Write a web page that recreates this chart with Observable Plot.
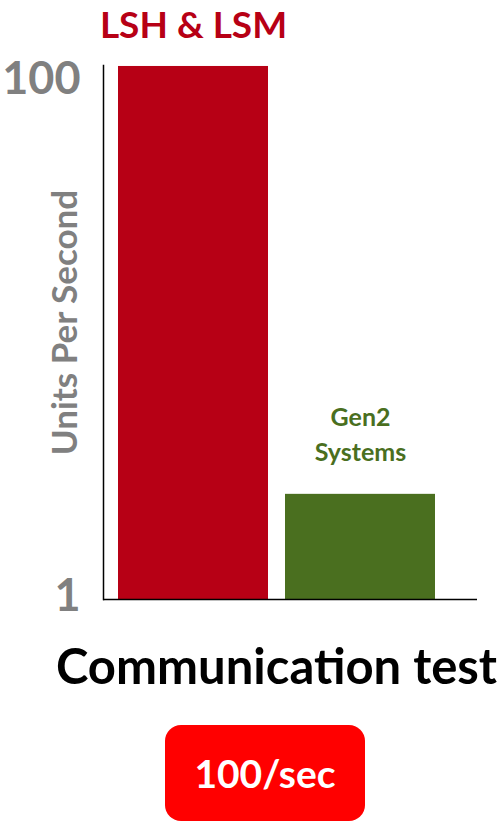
<!DOCTYPE html>
<html>
<head>
<meta charset="utf-8">
<script src="https://cdn.jsdelivr.net/npm/d3@7"></script>
<script src="https://cdn.jsdelivr.net/npm/@observablehq/plot@0.6"></script>
<style>
  html, body { margin: 0; padding: 0; background: #fff; }
  #chart { width: 501px; }
  #chart svg { display: block; }
  #box {
    margin: 25px 0 0 165px; width: 200px; height: 96px;
    background: #ff0000; border-radius: 16px; color: #fff;
    font: bold 39px Lato, "Open Sans", sans-serif;
    display: flex; align-items: center; justify-content: center;
  }
</style>
</head>
<body>
<div id="chart"></div>
<div id="box"></div>
<script>
const categories = ["LSH & LSM", "Gen2 Systems"];
const values = [115, 2.55];
const labels = ["LSH & LSM", "Gen2\nSystems"];
const colors = ["#b70015", "#4a6f1f"];
const yTicks = [1, 100];
const yLabel = "Units Per Second";
const xTitle = "Communication test";
const boxText = "100/sec";

const data = categories.map((c, i) => ({category: c, value: values[i], label: labels[i], color: colors[i]}));

const plot = Plot.plot({
  width: 501,
  height: 700,
  marginLeft: 103,
  marginRight: 24,
  marginTop: 65,
  marginBottom: 101,
  style: {fontFamily: "Lato, 'Open Sans', sans-serif", background: "#fff", overflow: "visible"},
  x: {domain: categories, range: [117, 436], paddingInner: 0.1, paddingOuter: 0, axis: null},
  y: {type: "log", domain: [1, 116], ticks: yTicks, tickFormat: d => String(d), axis: null},
  marks: [
    Plot.barY(data, {x: "category", y1: 1, y2: "value", fill: "color"}),
    Plot.ruleY([1], {stroke: "#000", strokeWidth: 1.5}),
    Plot.frame({anchor: "left", stroke: "#000", strokeWidth: 1.5}),
    Plot.axisY(yTicks, {tickSize: 0, tickPadding: 23, fontSize: 45, fontWeight: "bold", fill: "#808080", label: null, tickFormat: d => String(d), dy: -3}),
    Plot.text([yLabel], {frameAnchor: "left", textAnchor: "middle", rotate: -90, dx: -38, dy: -10, fontSize: 35, fontWeight: "bold", fill: "#808080"}),
    Plot.text(data.slice(0, 1), {x: "category", y: "value", text: "label", fill: "color", dy: -40, fontSize: 37, fontWeight: "bold"}),
    Plot.text(data.slice(1), {x: "category", y: "value", text: "label", fill: "color", dy: -62, fontSize: 25, fontWeight: "bold", lineHeight: 1.4}),
    Plot.text([xTitle], {frameAnchor: "bottom", dx: -14, dy: 84, fontSize: 49, fontWeight: "bold", fill: "#000"})
  ]
});
document.getElementById("chart").appendChild(plot);
document.getElementById("box").textContent = boxText;
</script>
</body>
</html>
